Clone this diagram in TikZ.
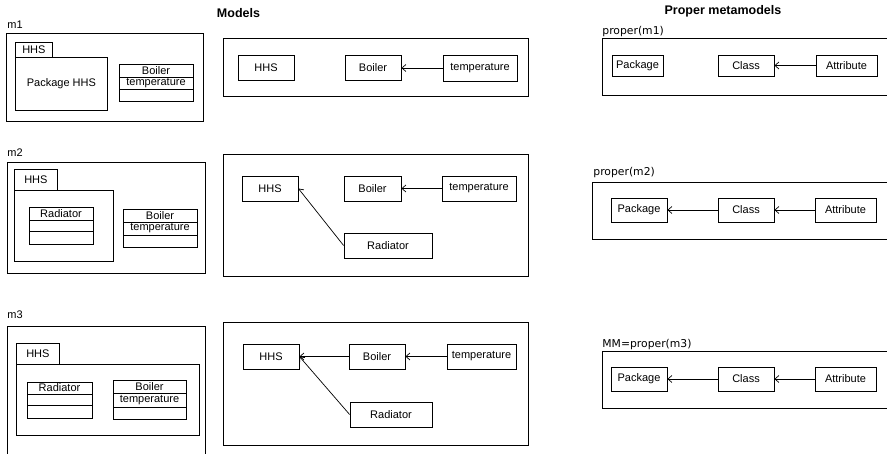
\documentclass[tikz,border=0pt]{standalone}
\usepackage{fontspec}
\setmainfont{Liberation Sans}
\newfontfamily\dejavu{DejaVu Sans}
\usetikzlibrary{positioning,arrows.meta}
\tikzset{every picture/.style={line width=0.8pt}}

\begin{document}
\begin{tikzpicture}[x=1pt,y=1pt,yscale=-1,
    box/.style={draw,inner sep=0pt,minimum height=25pt,font=\fontsize{11}{13}\selectfont},
    cpart/.style={draw,inner sep=0pt,outer sep=0pt,font=\fontsize{11}{13}\selectfont},
    lbl/.style={anchor=west,inner sep=0pt,font=\fontsize{11}{13}\selectfont},
    plbl/.style={anchor=west,inner sep=0pt,font=\dejavu\fontsize{10.8}{13}\selectfont},
    ttl/.style={inner sep=0pt,font=\fontsize{12.5}{14}\selectfont\bfseries},
    frame/.style={line width=1pt},
    dep/.style={-{Straight Barb[length=4pt,width=7pt]},line width=0.7pt}]
    \useasboundingbox (0,0) rectangle (887,454);

    % titles
    \node[ttl] (ttlM) at (238.5,13) {Models};
    \node[ttl] (ttlMM) at (723,11) {Proper metamodels};

    % m1
    \node[lbl] (m1lbl) at (7,25) {m1};
    \draw[frame] (6,34) rectangle (203,122);
    \node[box,anchor=north west,minimum width=37pt,minimum height=15pt] (tabA) at (15,42) {HHS};
    \node[box,anchor=north west,minimum width=92pt,minimum height=53pt] (pkgA) at (15,57) {Package HHS};
    \node[cpart,anchor=north west,minimum width=74pt,minimum height=13pt] (boilA) at (119,64) {Boiler};
    \node[cpart,below=0pt of boilA,minimum width=74pt,minimum height=12pt] (boilAatt) {temperature};
    \node[cpart,below=0pt of boilAatt,minimum width=74pt,minimum height=12pt] (boilAop) {};

    \draw[frame] (223,39) rectangle (528,97);
    \node[box,minimum width=56pt] (hhsA) at (266,68) {HHS};
    \node[box,minimum width=56pt] (boilerA) at (373,68) {Boiler};
    \node[box,minimum width=74pt,minimum height=26pt] (tempA) at (480,68) {temperature};
    \draw[dep] (tempA) -- (boilerA);

    \node[plbl] (p1lbl) at (602,32) {proper(m1)};
    \draw[frame] (887,39) -- (602,39) -- (602,96) -- (887,96);
    \node[box,minimum width=51pt,minimum height=21pt] (pkgB) at (637.5,65.5) {Package};
    \node[box,minimum width=56pt,minimum height=21pt] (clsB) at (746,65.5) {Class};
    \node[box,minimum width=61pt,minimum height=21pt] (attB) at (846.5,65.5) {Attribute};
    \draw[dep] (attB) -- (clsB);

    % m2
    \node[lbl] (m2lbl) at (7,153) {m2};
    \draw[frame] (7,163) rectangle (205,274);
    \node[box,anchor=north west,minimum width=43pt,minimum height=21pt] (tabC) at (14,169) {HHS};
    \node[box,anchor=north west,minimum width=99pt,minimum height=71pt] (pkgC) at (14,190) {};
    \node[cpart,anchor=north west,minimum width=64pt,minimum height=13pt] (radC) at (29,207) {Radiator};
    \node[cpart,below=0pt of radC,minimum width=64pt,minimum height=11pt] (radCatt) {};
    \node[cpart,below=0pt of radCatt,minimum width=64pt,minimum height=13pt] (radCop) {};
    \node[cpart,anchor=north west,minimum width=74pt,minimum height=13pt] (boilC) at (123,209) {Boiler};
    \node[cpart,below=0pt of boilC,minimum width=74pt,minimum height=13pt] (boilCatt) {temperature};
    \node[cpart,below=0pt of boilCatt,minimum width=74pt,minimum height=12pt] (boilCop) {};

    \draw[frame] (223,155) rectangle (528,277);
    \node[box,minimum width=56pt] (hhsD) at (270,188.5) {HHS};
    \node[box,minimum width=57pt] (boilerD) at (372.5,188.5) {Boiler};
    \node[box,minimum width=74pt] (tempD) at (479,188.5) {temperature};
    \node[box,minimum width=88pt] (radD) at (388,245.5) {Radiator};
    \draw[dep] (tempD) -- (boilerD);
    \draw[dep] (radD.west) -- (hhsD.east);

    \node[plbl] (p2lbl) at (593,173) {proper(m2)};
    \draw[frame] (887,183) -- (592,183) -- (592,240) -- (887,240);
    \node[box,minimum width=56pt,minimum height=24pt] (pkgE) at (639,210) {Package};
    \node[box,minimum width=56pt,minimum height=24pt] (clsE) at (746,210) {Class};
    \node[box,minimum width=61pt,minimum height=24pt] (attE) at (845.5,210) {Attribute};
    \draw[dep] (attE) -- (clsE);
    \draw[dep] (clsE) -- (pkgE);

    % m3
    \node[lbl] (m3lbl) at (7,315) {m3};
    \draw[frame] (7,454) -- (7,327) -- (205,327) -- (205,454);
    \node[box,anchor=north west,minimum width=43pt,minimum height=21pt] (tabF) at (16,343) {HHS};
    \node[box,anchor=north west,minimum width=183pt,minimum height=71pt] (pkgF) at (16,364) {};
    \node[cpart,anchor=north west,minimum width=65pt,minimum height=12pt] (radF) at (27,382) {Radiator};
    \node[cpart,below=0pt of radF,minimum width=65pt,minimum height=11pt] (radFatt) {};
    \node[cpart,below=0pt of radFatt,minimum width=65pt,minimum height=13pt] (radFop) {};
    \node[cpart,anchor=north west,minimum width=73pt,minimum height=13pt] (boilF) at (113,380) {Boiler};
    \node[cpart,below=0pt of boilF,minimum width=73pt,minimum height=14pt] (boilFatt) {temperature};
    \node[cpart,below=0pt of boilFatt,minimum width=73pt,minimum height=12pt] (boilFop) {};

    \draw[frame] (223,323) rectangle (528,446);
    \node[box,minimum width=56pt] (hhsG) at (271,356.5) {HHS};
    \node[box,minimum width=56pt] (boilerG) at (377,356.5) {Boiler};
    \node[box,minimum width=69pt] (tempG) at (481.5,356.5) {temperature};
    \node[box,minimum width=82pt] (radG) at (391,414.5) {Radiator};
    \draw[dep] (tempG) -- (boilerG);
    \draw[dep] (boilerG) -- (hhsG);
    \draw[dep] (radG.west) -- (hhsG.east);

    \node[plbl] (p3lbl) at (602,345) {MM=proper(m3)};
    \draw[frame] (887,352) -- (602,352) -- (602,409) -- (887,409);
    \node[box,minimum width=56pt,minimum height=24pt] (pkgH) at (639,379) {Package};
    \node[box,minimum width=56pt,minimum height=24pt] (clsH) at (746,379) {Class};
    \node[box,minimum width=61pt,minimum height=24pt] (attH) at (845.5,379) {Attribute};
    \draw[dep] (attH) -- (clsH);
    \draw[dep] (clsH) -- (pkgH);
\end{tikzpicture}
\end{document}
